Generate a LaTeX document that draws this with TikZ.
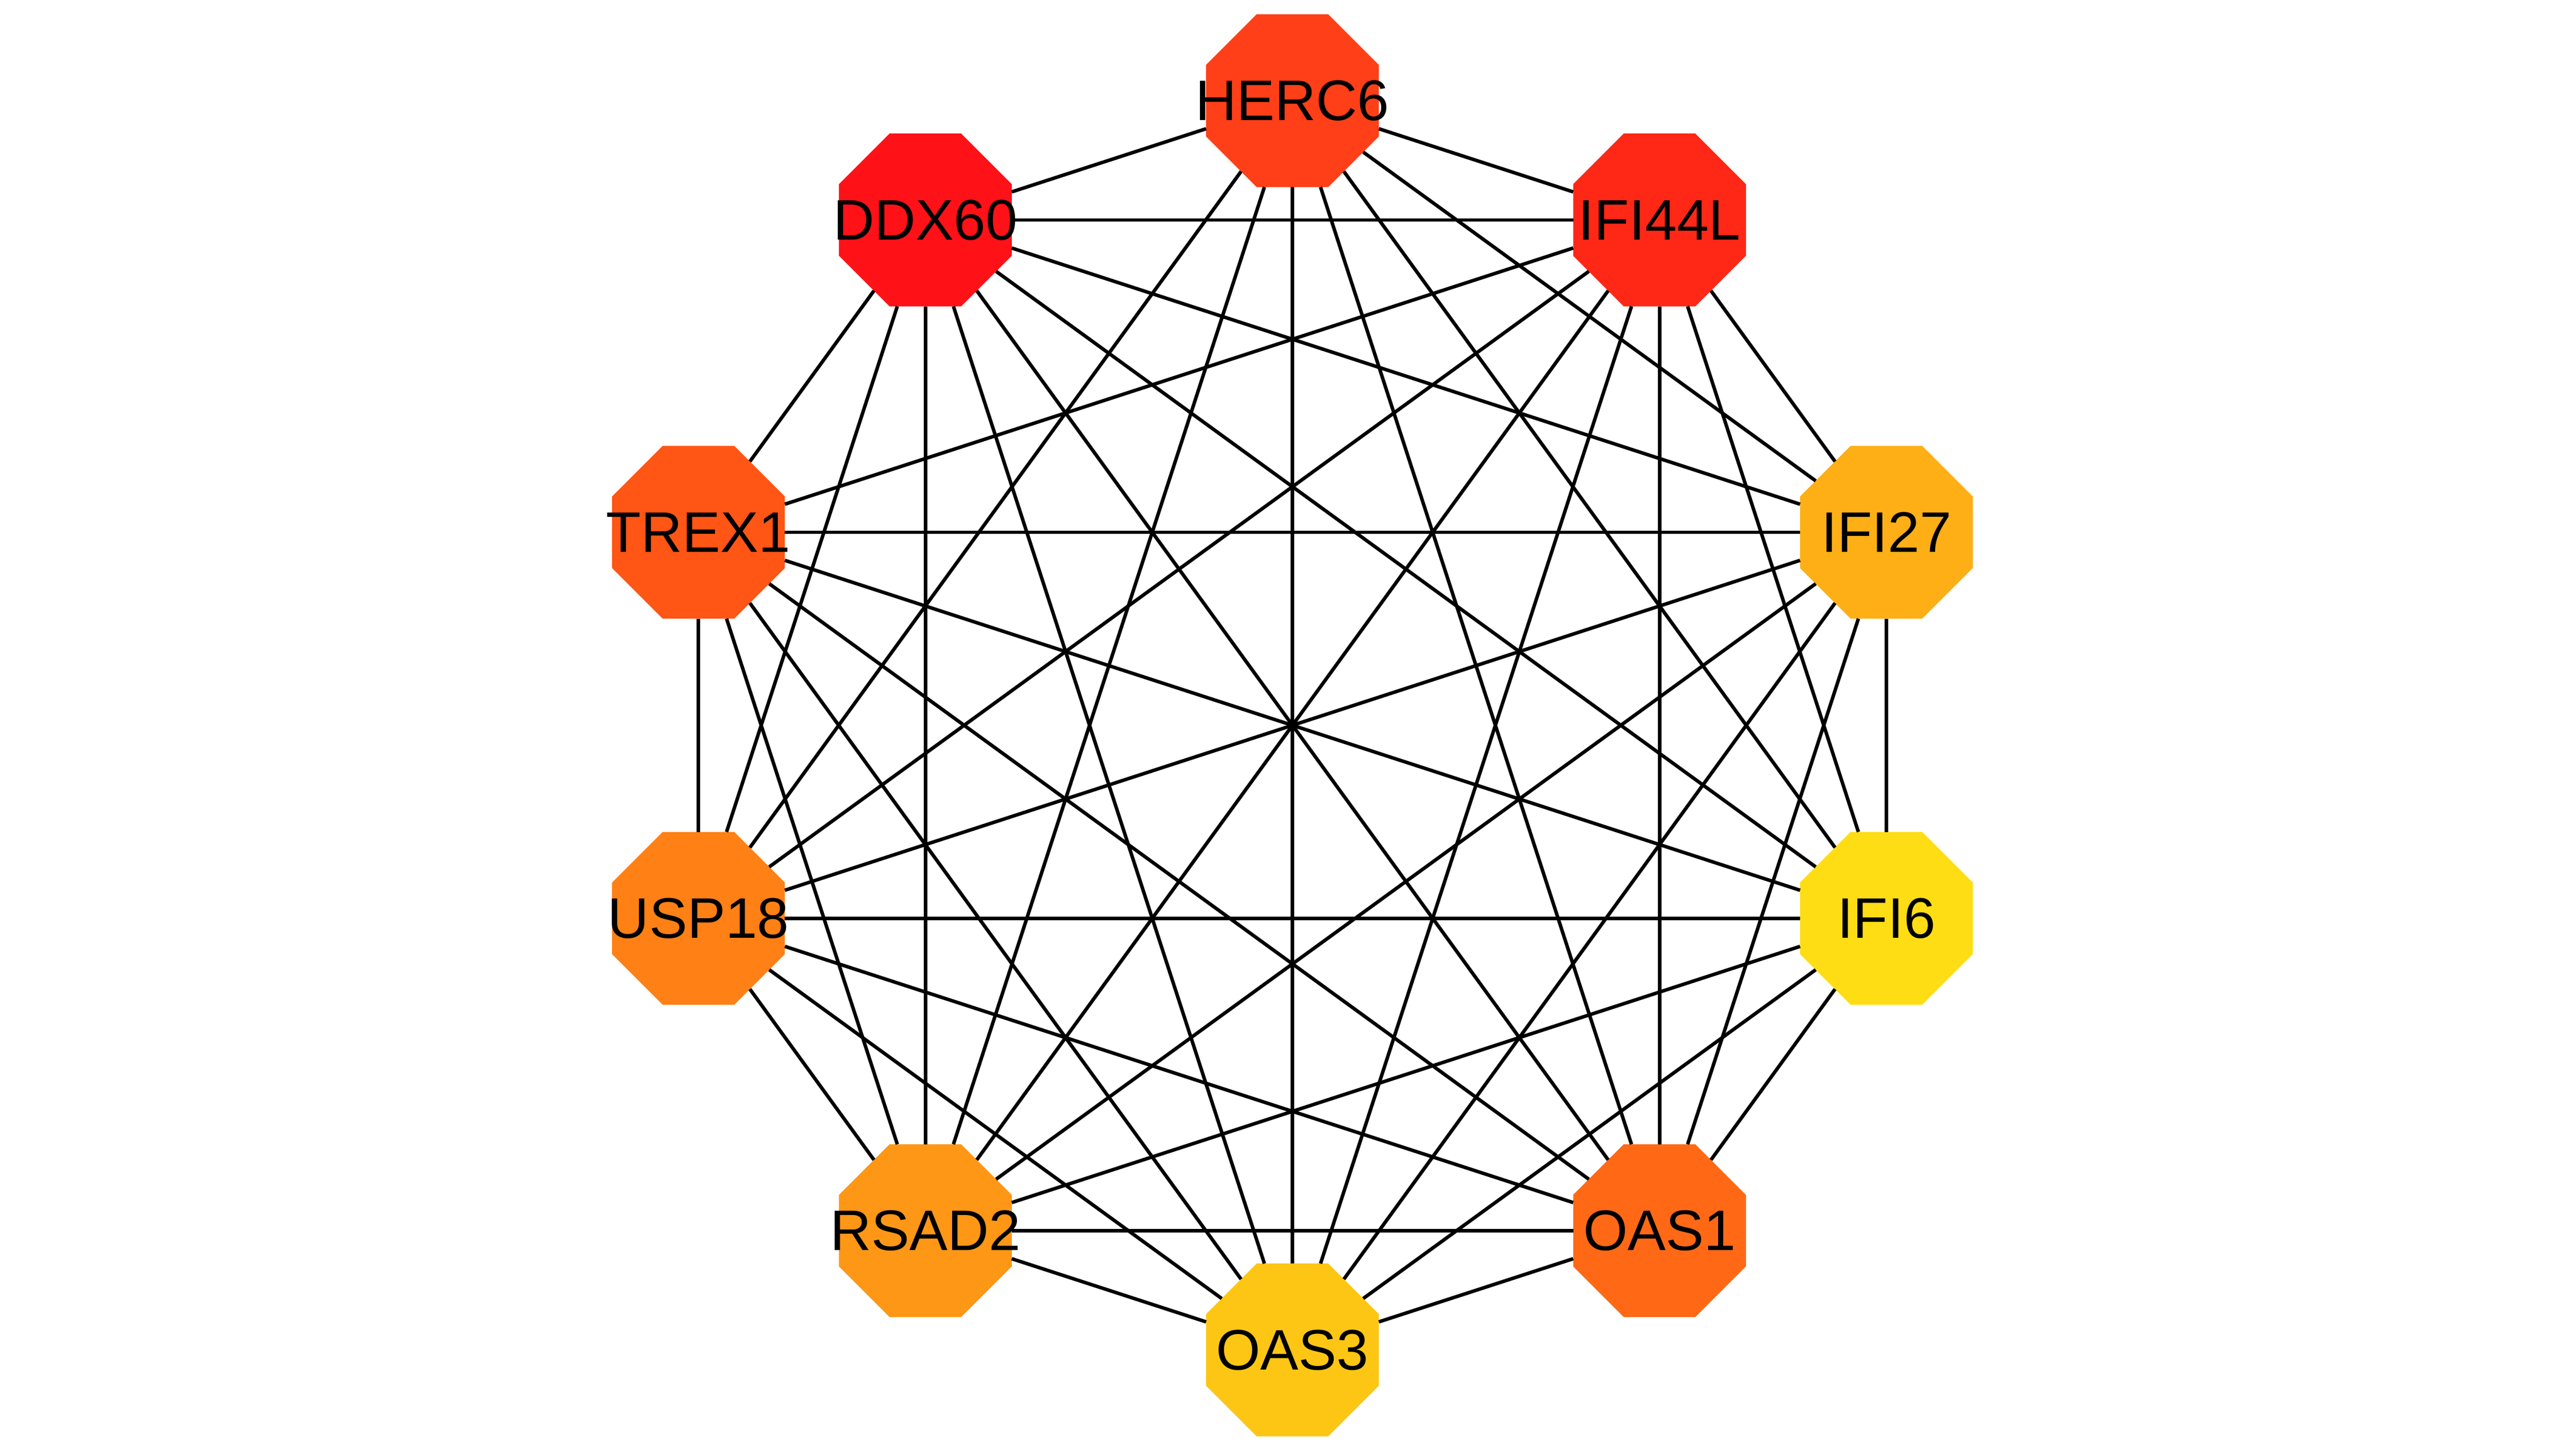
\documentclass[tikz,border=0pt]{standalone}
\usepackage{fontspec}
\setmainfont{Liberation Sans}
\usetikzlibrary{shapes.geometric,calc}
\definecolor{cHERC}{HTML}{FF3F17}
\definecolor{cDDX}{HTML}{FF1118}
\definecolor{cIFIL}{HTML}{FF2716}
\definecolor{cTREX}{HTML}{FF5515}
\definecolor{cOASa}{HTML}{FF6916}
\definecolor{cUSP}{HTML}{FF8015}
\definecolor{cRSAD}{HTML}{FF9716}
\definecolor{cIFIb}{HTML}{FEAF16}
\definecolor{cOASc}{HTML}{FEC614}
\definecolor{cIFIc}{HTML}{FEDD14}
\tikzset{
  gene/.style={regular polygon, regular polygon sides=8, draw=none,
    minimum size=4.83cm, inner sep=0pt, outer sep=0pt,
    label={[font=\fontsize{42}{50}\selectfont, inner sep=0pt, text=black]center:#1}},
  link/.style={draw=black, line width=0.09cm}
}
\begin{document}
\begin{tikzpicture}
\fill[white] (0,0) rectangle (66.53,37.46);
\useasboundingbox (0,0) rectangle (66.53,37.46);
\coordinate (ctr) at (33.38,18.73);
\node[gene=HERC6, fill=cHERC] (herc) at ($(ctr)+(90:16.13)$) {};
\node[gene=IFI44L, fill=cIFIL] (ifil) at ($(ctr)+(54:16.13)$) {};
\node[gene=IFI27, fill=cIFIb] (ifib) at ($(ctr)+(18:16.13)$) {};
\node[gene=IFI6, fill=cIFIc] (ific) at ($(ctr)+(-18:16.13)$) {};
\node[gene=OAS1, fill=cOASa] (oasa) at ($(ctr)+(-54:16.13)$) {};
\node[gene=OAS3, fill=cOASc] (oasc) at ($(ctr)+(-90:16.13)$) {};
\node[gene=RSAD2, fill=cRSAD] (rsad) at ($(ctr)+(-126:16.13)$) {};
\node[gene=USP18, fill=cUSP] (usp) at ($(ctr)+(198:16.13)$) {};
\node[gene=TREX1, fill=cTREX] (trex) at ($(ctr)+(162:16.13)$) {};
\node[gene=DDX60, fill=cDDX] (ddx) at ($(ctr)+(126:16.13)$) {};
% edges: complete graph except HERC6--TREX1
\foreach \a/\b in {herc/ifil,herc/ifib,herc/ific,herc/oasa,herc/oasc,herc/rsad,herc/usp,herc/ddx,
  ifil/ifib,ifil/ific,ifil/oasa,ifil/oasc,ifil/rsad,ifil/usp,ifil/trex,ifil/ddx,
  ifib/ific,ifib/oasa,ifib/oasc,ifib/rsad,ifib/usp,ifib/trex,ifib/ddx,
  ific/oasa,ific/oasc,ific/rsad,ific/usp,ific/trex,ific/ddx,
  oasa/oasc,oasa/rsad,oasa/usp,oasa/trex,oasa/ddx,
  oasc/rsad,oasc/usp,oasc/trex,oasc/ddx,
  rsad/usp,rsad/trex,rsad/ddx,
  usp/trex,usp/ddx,
  trex/ddx}
  \draw[link] (\a) -- (\b);
\end{tikzpicture}
\end{document}
